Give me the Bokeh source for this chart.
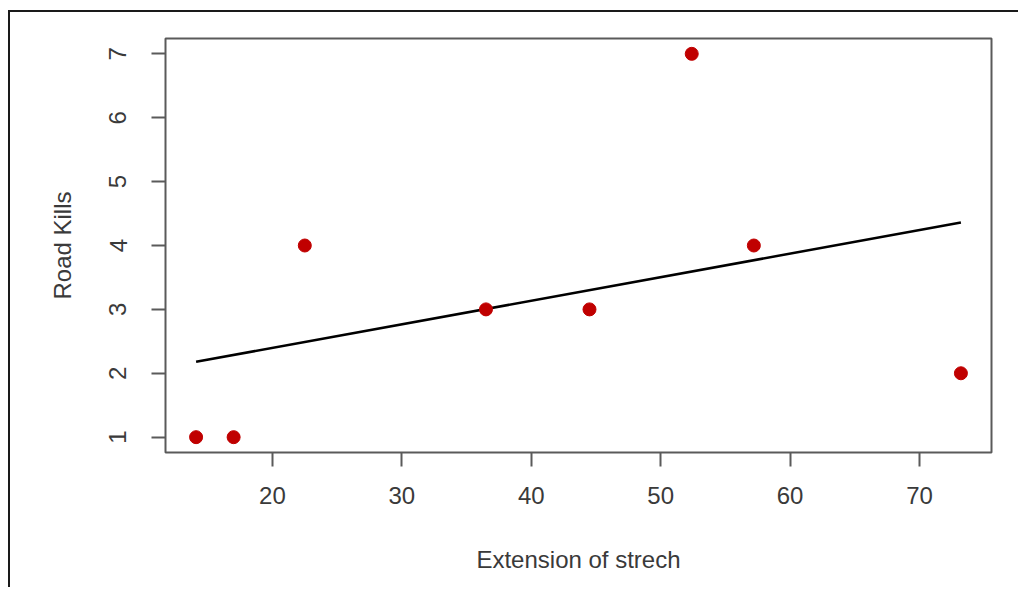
from bokeh.plotting import figure
from bokeh.embed import file_html
from bokeh.resources import INLINE
from bokeh.models import Range1d, FixedTicker

# Data
extension = [14.1, 17.0, 22.5, 36.5, 44.5, 52.4, 57.2, 73.2]
road_kills = [1, 1, 4, 3, 3, 7, 4, 2]
fit_x = [14.1, 73.2]
fit_y = [2.18, 4.36]
x_ticks = [20, 30, 40, 50, 60, 70]
y_ticks = [1, 2, 3, 4, 5, 6, 7]

def padded(vals, frac=0.04):
    lo, hi = min(vals), max(vals)
    d = (hi - lo) * frac
    return lo - d, hi + d

xr = padded(extension)
yr = padded(road_kills)

FONT = "Liberation Sans"
TXT = "#3a3a3a"
BOX = "#5a5a5a"

p = figure(width=1010, height=577, output_backend="svg", toolbar_location=None,
           x_range=Range1d(*xr), y_range=Range1d(*yr),
           min_border_left=155, min_border_right=29, min_border_top=26, min_border_bottom=137,
           background_fill_color="white", border_fill_color="white")
p.styles = {"border-left": "2px solid #1a1a1a", "border-top": "2px solid #1a1a1a",
            "margin-top": "10px", "margin-left": "8px"}

p.grid.visible = False
p.outline_line_color = BOX
p.outline_line_width = 2
p.outline_line_alpha = 1.0

for ax in (p.xaxis[0], p.yaxis[0]):
    ax.axis_line_color = None
    ax.major_tick_line_color = BOX
    ax.major_tick_line_width = 2
    ax.major_tick_in = 0
    ax.major_tick_out = 14
    ax.minor_tick_line_color = None
    ax.major_label_text_font = FONT
    ax.major_label_text_font_size = "24px"
    ax.major_label_text_color = TXT
    ax.axis_label_text_font = FONT
    ax.axis_label_text_font_size = "24px"
    ax.axis_label_text_font_style = "normal"
    ax.axis_label_text_color = TXT

p.xaxis.ticker = FixedTicker(ticks=x_ticks)
p.yaxis.ticker = FixedTicker(ticks=y_ticks)
p.xaxis.axis_label = "Extension of strech"
p.yaxis.axis_label = "Road Kills"
p.yaxis.major_label_orientation = "vertical"
p.xaxis.major_label_standoff = 20
p.yaxis.major_label_standoff = 25
p.xaxis.axis_label_standoff = 39
p.yaxis.axis_label_standoff = 31

p.line(fit_x, fit_y, line_color="black", line_width=2.5)
p.scatter(extension, road_kills, size=13, fill_color="#c00000", line_color="#c00000")

open("out.html", "w").write(file_html(p, INLINE))
